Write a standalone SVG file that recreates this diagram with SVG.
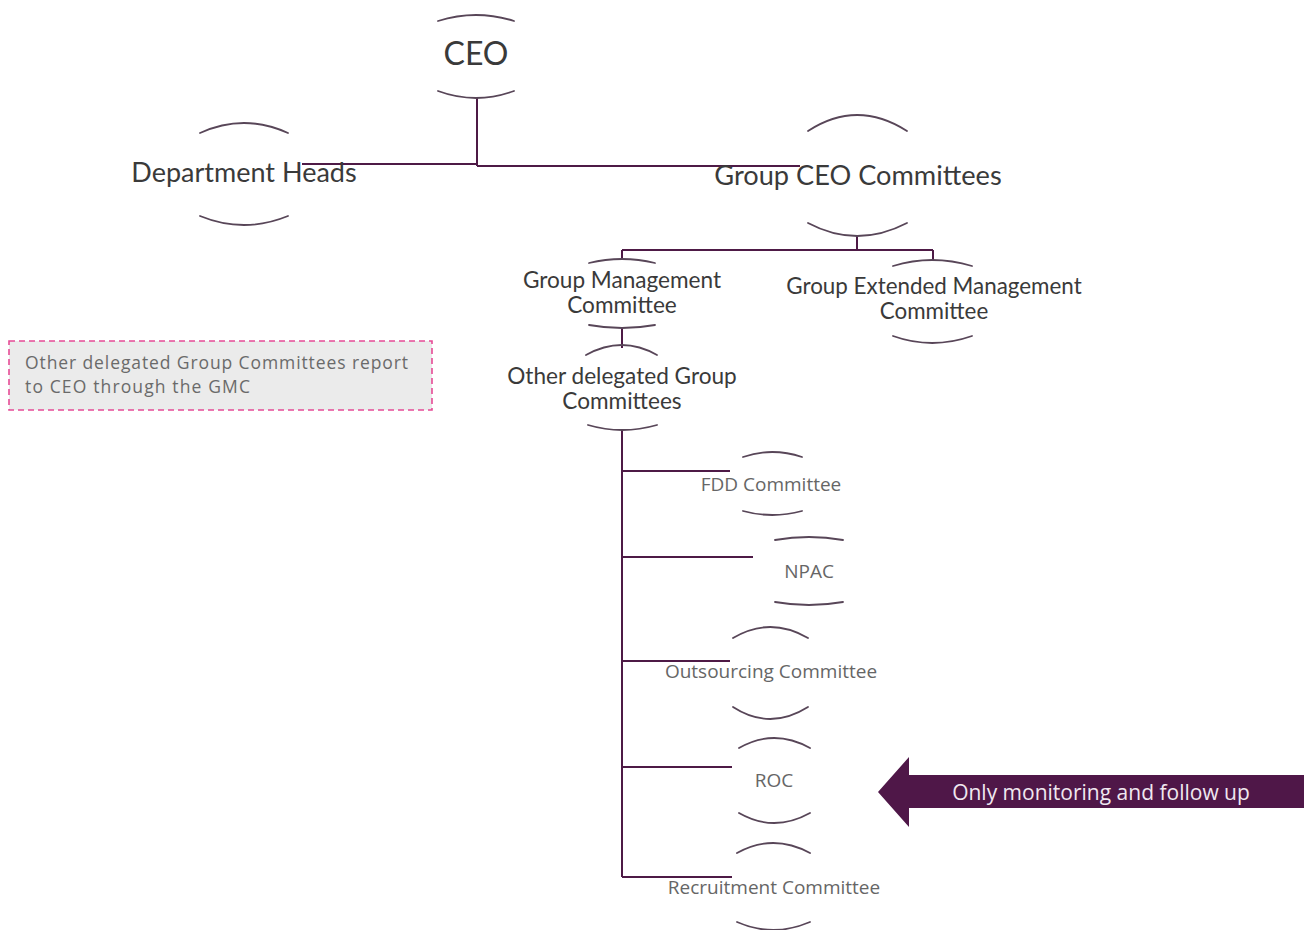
<svg xmlns="http://www.w3.org/2000/svg" width="1304" height="930" viewBox="0 0 1304 930">
<style>
.arc{fill:none;stroke:#584658;stroke-width:1.8;stroke-linecap:round}
.con{fill:none;stroke:#4e1a46;stroke-width:2}
.t1{font-family:Lato,"Liberation Sans",sans-serif;fill:#3a3a3a;text-anchor:middle}
.t2{font-family:"Open Sans","Liberation Sans",sans-serif;fill:#666;text-anchor:middle;font-size:19px}
.nt{font-family:"Open Sans","Liberation Sans",sans-serif;font-size:17.5px;fill:#6a6a6a}
</style>
<rect width="1304" height="930" fill="#fff"/>
<g id="connectors">
<path class="con" d="M477 98V166M302 164H478M477 166H800M857 236V250M622 250H933M622 250V259M933 250V260M622 328V348M622 430V877M622 471H730M622 557H753M622 661H730M622 767H732M622 877H732"/>
</g>
<g id="ceo">
<path class="arc" d="M438 21Q476 9 514 21M438 91Q476 105 514 91"/>
<text class="t1" x="476" y="65" font-size="32">CEO</text>
</g>
<g id="dept-heads">
<path class="arc" d="M200 133Q244 113 288 133M200 216Q244 234 288 216"/>
<text class="t1" x="244" y="182" font-size="27">Department Heads</text>
</g>
<g id="group-ceo-committees">
<path class="arc" d="M808 131Q857 99 907 131M808 223Q857 249 907 223"/>
<text class="t1" x="858" y="185" font-size="27.2">Group CEO Committees</text>
</g>
<g id="gmc">
<path class="arc" d="M589 263Q622 255 655 263M589 325Q622 331 655 325"/>
<text class="t1" x="622" y="288" font-size="22.6">Group Management</text>
<text class="t1" x="622" y="313" font-size="22.6">Committee</text>
</g>
<g id="gemc">
<path class="arc" d="M893 266Q932 254 972 266M893 336Q932 350 972 336"/>
<text class="t1" x="934" y="294" font-size="22.4">Group Extended Management</text>
<text class="t1" x="934" y="319" font-size="22.4">Committee</text>
</g>
<g id="other-delegated">
<path class="arc" d="M586 355Q622 335 657 355M588 425Q622 435 657 425"/>
<text class="t1" x="622" y="384" font-size="22.6">Other delegated Group</text>
<text class="t1" x="622" y="409" font-size="22.6">Committees</text>
</g>
<g id="fdd">
<path class="arc" d="M743 457Q772 447 802 457M743 511Q772 519 802 511"/>
<text class="t2" x="771" y="491">FDD Committee</text>
</g>
<g id="npac">
<path class="arc" d="M775 540Q809 534 843 540M775 602Q809 608 843 602"/>
<text class="t2" x="809" y="578">NPAC</text>
</g>
<g id="outsourcing">
<path class="arc" d="M733 638Q770 616 808 638M733 707Q770 731 808 707"/>
<text class="t2" x="771" y="678">Outsourcing Committee</text>
</g>
<g id="roc">
<path class="arc" d="M739 748Q774 728 810 748M739 813Q774 833 810 813"/>
<text class="t2" x="774" y="787">ROC</text>
</g>
<g id="recruitment">
<path class="arc" d="M737 853Q773 833 810 853M737 922Q773 938 810 922"/>
<text class="t2" x="774" y="894">Recruitment Committee</text>
</g>
<g id="note">
<rect x="9" y="341" width="423" height="69" fill="#ebebeb" stroke="#e64b96" stroke-width="1.6" stroke-dasharray="6 4"/>
<text class="nt" x="25" y="369" textLength="383" lengthAdjust="spacing">Other delegated Group Committees report</text>
<text class="nt" x="25" y="393" textLength="225" lengthAdjust="spacing">to CEO through the GMC</text>
</g>
<g id="arrow">
<polygon points="878,792 909,757 909,775 1304,775 1304,808 909,808 909,827" fill="#4f1748"/>
<text x="1101" y="800" text-anchor="middle" font-family="'Open Sans','Liberation Sans',sans-serif" font-size="21" fill="#f0e8f0">Only monitoring and follow up</text>
</g>
</svg>
